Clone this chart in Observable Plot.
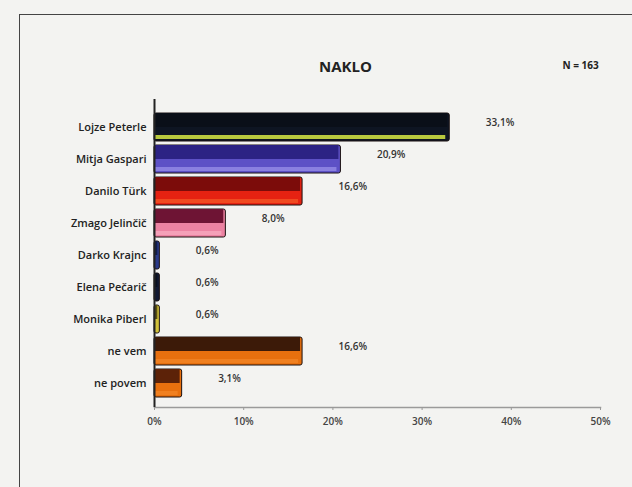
<!DOCTYPE html>
<html><head><meta charset="utf-8">
<script src="https://cdn.jsdelivr.net/npm/d3@7"></script>
<script src="https://cdn.jsdelivr.net/npm/@observablehq/plot@0.6"></script>
<style>
html,body{margin:0;padding:0;background:#f3f3f1;}
#wrap{position:relative;width:632px;height:487px;overflow:hidden;}
#box{position:absolute;left:19px;top:14px;width:700px;height:600px;border:1.5px solid #444;box-sizing:border-box;}
#chart{position:absolute;left:0;top:0;}
</style></head>
<body><div id="wrap"><div id="box"></div><div id="chart"></div></div>
<script>
const candidates = ["Lojze Peterle","Mitja Gaspari","Danilo Türk","Zmago Jelinčič","Darko Krajnc","Elena Pečarič","Monika Piberl","ne vem","ne povem"];
const shares = [33.1,20.9,16.6,8.0,0.6,0.6,0.6,16.6,3.1];
const shareLabels = ["33,1%","20,9%","16,6%","8,0%","0,6%","0,6%","0,6%","16,6%","3,1%"];
const bodyColors = ["#0e1522","#5d51c6","#e62212","#ec82a2","#2a3a8a","#121a34","#d2c23a","#e8700e","#e8700e"];
const topColors  = ["#0a0f18","#2c2384","#7c0c0a","#6e1434","#101c4a","#0a1020","#5a5010","#3c1a08","#5c2208"];
const stripeColors = ["#b9c93e","#8a80e0","#f04a20","#f4a0b8","#3a4aa0","#1a2444","#e0d050","#f08020","#f08020"];
const tickValues = [0,10,20,30,40,50];
const tickLabels = ["0%","10%","20%","30%","40%","50%"];
const title = "NAKLO";
const sampleNote = "N = 163";

const data = candidates.map((c,i)=>({c, v:shares[i], lab:shareLabels[i], body:bodyColors[i], top:topColors[i], stripe:stripeColors[i]}));
const font = "'Open Sans', sans-serif";

const chart = Plot.plot({
  width: 632, height: 487,
  marginLeft: 154, marginRight: 32, marginTop: 107, marginBottom: 80,
  insetBottom: 4,
  style: {background: "transparent", fontFamily: font, color: "#222"},
  x: {domain: [0, 50], ticks: tickValues, tickFormat: (d)=>tickLabels[tickValues.indexOf(d)], label: null, tickSize: 3},
  y: {domain: candidates, label: null, padding: 0.12, tickSize: 0},
  marks: [
    Plot.frame({anchor: "bottom", stroke: "#9a9a9a", strokeWidth: 1.5}),
    Plot.barX(data, {x: "v", y: "c", fill: "body", stroke: "#1a1010", strokeWidth: 1, rx: 2}),
    Plot.barX(data, {x: "v", y: "c", fill: "top", insetBottom: 14, insetRight: 2}),
    Plot.barX(data, {x: "v", y: "c", fill: "stripe", insetTop: 22, insetBottom: 2, insetRight: 4, insetLeft: 1}),
    Plot.ruleX([0], {stroke: "#222", strokeWidth: 2, insetTop: -8}),
    Plot.text(data, {x: "v", y: "c", text: "lab", textAnchor: "start", dx: 36, dy: -5, fontSize: 10, fontWeight: 600, fill: "#333"}),
    Plot.axisY({tickSize: 0, tickPadding: 8, fontSize: 11, fontWeight: 600, fill: "#222"}),
    Plot.axisX({ticks: tickValues, tickFormat: (d)=>tickLabels[tickValues.indexOf(d)], tickSize: 3, tickPadding: 7, fontSize: 10, fontWeight: 600, fill: "#444", stroke: "#999", label: null}),
    Plot.text([title], {frameAnchor: "top", dx: -32, dy: -46, fontSize: 15, fontWeight: 700, fill: "#222"}),
    Plot.text([sampleNote], {frameAnchor: "top-left", dx: 408, dy: -46, textAnchor: "start", fontSize: 10, fontWeight: 700, fill: "#222"})
  ]
});
document.getElementById("chart").appendChild(chart);
</script></body></html>
